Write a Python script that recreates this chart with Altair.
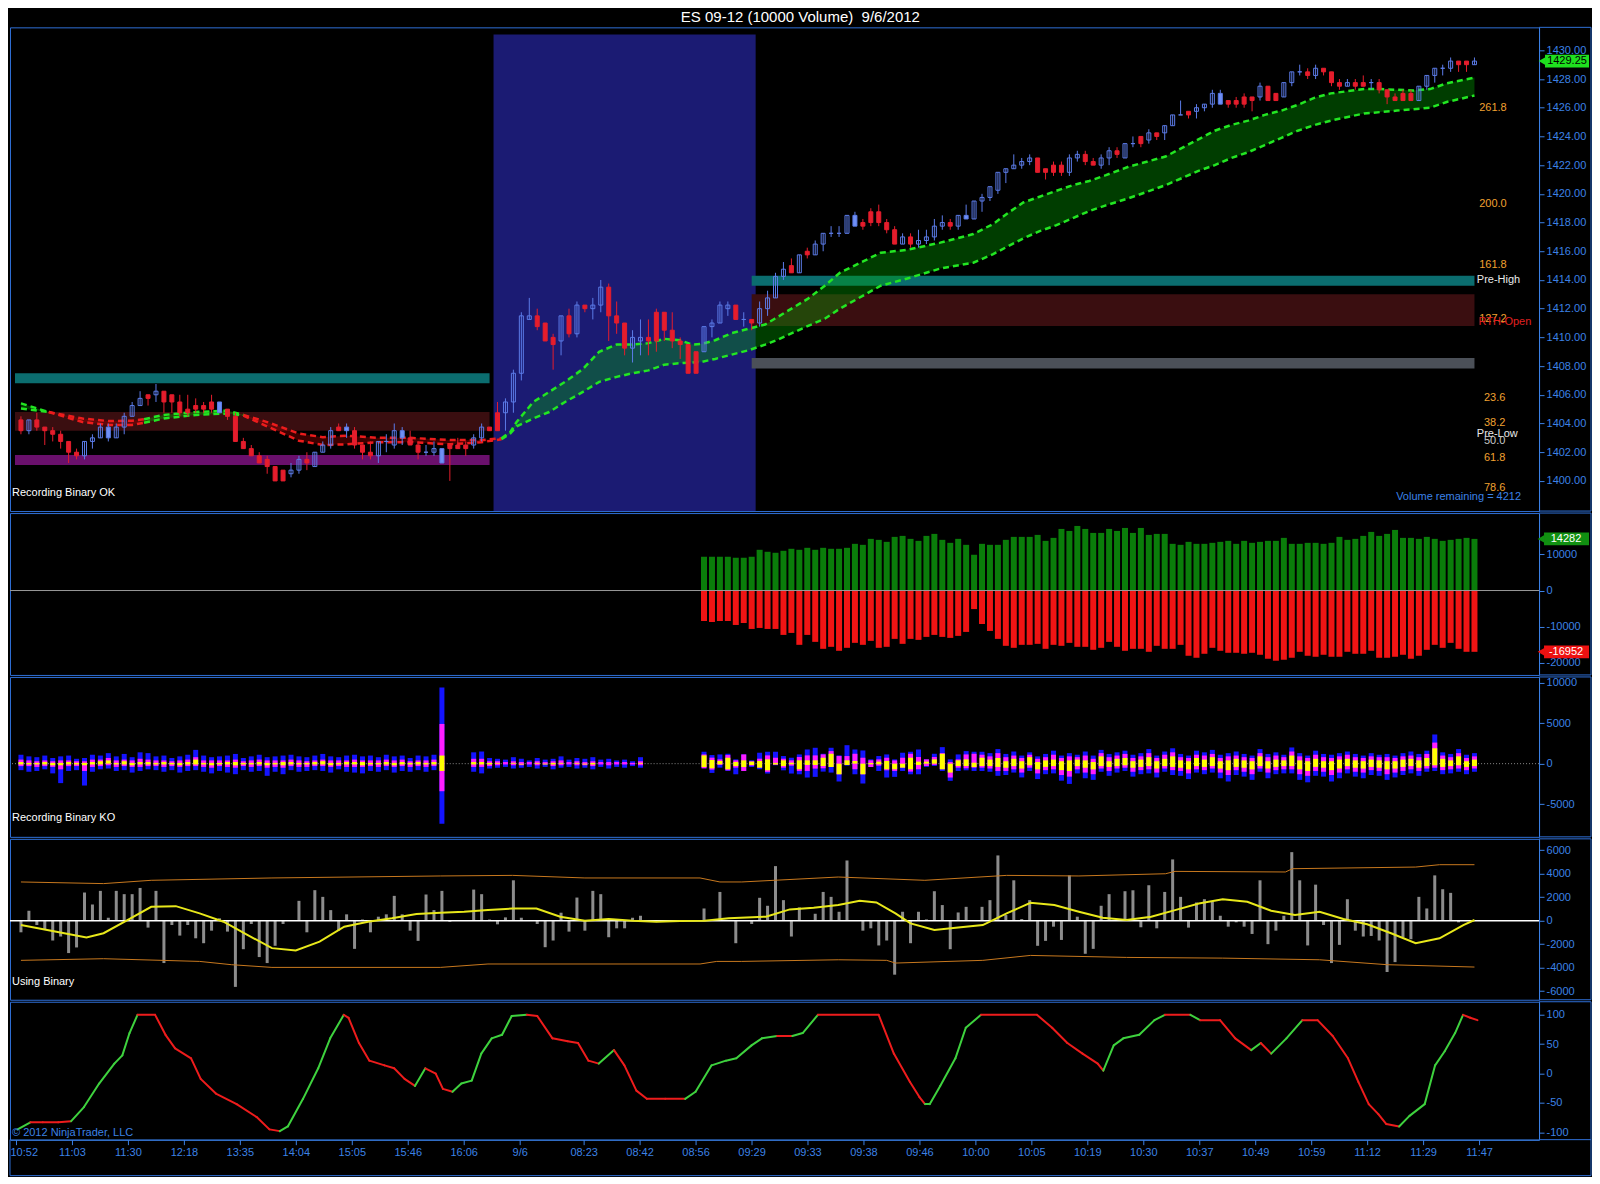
import altair as alt
import pandas as pd

TITLE = "ES 09-12 (10000 Volume)\u00a0 9/6/2012"
FONT = "Liberation Sans"
AX = "#3c82e6"
FRAME = "#2f6fd6"
W = 1530
RIGHT = 1582
H1, H2, H3, H4, H5 = 484, 162, 160, 161, 138
XDOM = [-0.75, 190.5]

# ---------------- bottom axis ----------------
tick_idx = [0, 7, 14, 21, 28, 35, 42, 49, 56, 63, 71, 78, 85, 92, 99, 106, 113, 120,
            127, 134, 141, 148, 155, 162, 169, 176, 183]
tick_lab = ["10:52", "11:03", "11:30", "12:18", "13:35", "14:04", "15:05", "15:46", "16:06",
            "9/6", "08:23", "08:42", "08:56", "09:29", "09:33", "09:38", "09:46", "10:00",
            "10:05", "10:19", "10:30", "10:37", "10:49", "10:59", "11:12", "11:29", "11:47"]

# ---------------- candles ----------------
c_open = [1404.25, 1403.5, 1404.25, 1403.75, 1403.5, 1403.25, 1402.75, 1402.0, 1401.75, 1402.75,
          1403.0, 1403.0, 1403.0, 1403.75, 1404.5, 1405.25, 1406.0, 1406.0, 1406.25, 1406.0,
          1405.5, 1405.0, 1405.25, 1405.25, 1405.5, 1404.75, 1405.0, 1404.5, 1402.75, 1402.25,
          1401.75, 1401.5, 1401.0, 1400.75, 1400.5, 1400.75, 1401.5, 1401.0, 1402.0, 1402.5,
          1403.75, 1403.5, 1403.5, 1402.5, 1402.0, 1401.75, 1402.75, 1402.5, 1403.0, 1403.0,
          1402.5, 1402.0, 1402.0, 1401.25, 1402.5, 1402.5, 1402.5, 1402.5, 1403.0, 1403.75,
          1404.75, 1404.75, 1405.5, 1407.5, 1411.25, 1411.5, 1411.0, 1410.0, 1409.75, 1411.5,
          1410.25, 1412.25, 1412.0, 1412.25, 1413.5, 1411.5, 1411.0, 1409.25, 1409.75, 1410.0,
          1411.75, 1411.75, 1410.5, 1409.75, 1409.5, 1409.0, 1409.0, 1410.75, 1411.0, 1412.0,
          1412.25, 1411.25, 1411.25, 1411.0, 1412.0, 1412.75, 1414.25, 1415.0, 1414.5, 1416.0,
          1415.75, 1416.5, 1417.25, 1417.25, 1417.25, 1417.75, 1418.0, 1418.75, 1418.75, 1418.0,
          1417.5, 1416.5, 1417.0, 1416.5, 1416.75, 1417.0, 1417.75, 1418.0, 1417.75, 1418.25,
          1418.25, 1419.5, 1419.75, 1420.25, 1421.5, 1421.75, 1422.0, 1422.25, 1422.5, 1421.75,
          1422.0, 1422.0, 1421.5, 1422.5, 1422.75, 1422.25, 1422.0, 1422.5, 1423.0, 1422.5,
          1423.5, 1424.0, 1423.75, 1424.25, 1424.25, 1424.75, 1425.5, 1425.75, 1425.75, 1426.0,
          1426.25, 1426.25, 1426.5, 1426.5, 1426.75, 1426.75, 1426.75, 1427.5, 1427.0, 1426.75,
          1427.75, 1428.5, 1428.5, 1428.25, 1428.75, 1428.5, 1427.75, 1427.5, 1427.75, 1427.75,
          1427.75, 1427.75, 1427.25, 1426.75, 1427.0, 1427.0, 1426.5, 1427.5, 1428.25, 1428.75,
          1428.75, 1429.25, 1429.25, 1429.0]
c_high = [1404.5, 1404.25, 1404.75, 1403.75, 1403.75, 1403.5, 1402.75, 1402.25, 1402.75, 1403.25,
          1404.0, 1404.0, 1404.0, 1404.75, 1405.5, 1406.25, 1406.0, 1406.75, 1406.25, 1406.0,
          1406.0, 1406.0, 1405.75, 1405.5, 1406.0, 1405.5, 1405.0, 1404.75, 1403.0, 1402.5,
          1402.0, 1401.75, 1401.0, 1400.75, 1401.25, 1401.75, 1402.0, 1402.0, 1402.75, 1403.75,
          1404.0, 1404.0, 1403.75, 1402.5, 1402.75, 1402.75, 1403.25, 1404.0, 1403.75, 1403.5,
          1402.75, 1402.5, 1402.75, 1402.25, 1402.5, 1403.0, 1402.75, 1403.25, 1404.0, 1403.75,
          1405.5, 1405.75, 1407.75, 1411.75, 1412.75, 1412.0, 1411.0, 1410.25, 1411.5, 1412.0,
          1412.5, 1412.25, 1412.75, 1414.0, 1413.75, 1412.5, 1411.0, 1410.5, 1411.25, 1411.25,
          1412.0, 1411.75, 1411.75, 1410.0, 1409.5, 1409.0, 1410.75, 1411.25, 1412.5, 1412.5,
          1412.25, 1411.75, 1411.25, 1412.5, 1413.25, 1414.5, 1415.25, 1415.5, 1415.75, 1416.25,
          1416.75, 1417.25, 1417.75, 1417.75, 1418.5, 1418.75, 1418.25, 1419.0, 1419.25, 1418.25,
          1417.75, 1417.25, 1417.25, 1417.5, 1417.5, 1418.25, 1418.5, 1418.25, 1418.5, 1419.25,
          1419.5, 1420.0, 1420.5, 1421.5, 1421.75, 1422.75, 1422.5, 1422.75, 1422.5, 1421.75,
          1422.25, 1422.25, 1422.75, 1423.0, 1423.0, 1422.5, 1422.75, 1423.25, 1423.25, 1423.5,
          1424.0, 1424.0, 1424.5, 1424.25, 1424.75, 1425.5, 1426.5, 1425.75, 1426.25, 1426.25,
          1427.25, 1427.25, 1426.5, 1426.75, 1427.0, 1426.75, 1427.75, 1427.5, 1427.0, 1427.75,
          1428.5, 1429.0, 1428.75, 1429.0, 1428.75, 1428.5, 1428.0, 1428.0, 1428.0, 1428.25,
          1428.0, 1428.0, 1427.25, 1427.0, 1427.25, 1427.25, 1427.5, 1428.25, 1428.75, 1429.0,
          1429.5, 1429.25, 1429.25, 1429.5]
c_low = [1403.25, 1403.25, 1403.5, 1402.5, 1402.75, 1402.25, 1401.25, 1401.5, 1401.5, 1402.25,
         1403.0, 1402.75, 1403.0, 1403.25, 1404.5, 1405.25, 1405.25, 1405.5, 1404.75, 1404.75,
         1404.5, 1404.5, 1404.75, 1404.75, 1404.75, 1404.75, 1404.25, 1402.75, 1402.25, 1401.75,
         1401.25, 1400.5, 1400.0, 1400.0, 1400.25, 1400.5, 1400.75, 1401.0, 1402.0, 1402.25,
         1403.5, 1403.0, 1402.25, 1401.5, 1401.5, 1401.25, 1402.0, 1402.25, 1402.5, 1402.5,
         1401.5, 1401.75, 1401.75, 1401.25, 1400.0, 1402.25, 1401.75, 1402.25, 1402.75, 1403.5,
         1403.5, 1403.5, 1404.75, 1407.0, 1411.25, 1410.5, 1409.75, 1407.75, 1408.75, 1410.0,
         1410.0, 1411.75, 1411.25, 1411.75, 1409.75, 1410.25, 1408.75, 1408.25, 1408.75, 1408.75,
         1409.0, 1409.75, 1409.25, 1408.5, 1407.5, 1407.5, 1409.0, 1410.0, 1411.0, 1411.5,
         1411.25, 1410.75, 1410.5, 1410.75, 1411.5, 1412.75, 1414.0, 1414.5, 1414.5, 1415.5,
         1415.75, 1416.0, 1417.0, 1417.0, 1417.25, 1417.75, 1417.5, 1417.75, 1417.75, 1417.25,
         1416.5, 1416.5, 1416.25, 1416.25, 1416.5, 1416.75, 1417.5, 1417.5, 1417.5, 1418.25,
         1418.25, 1418.75, 1419.5, 1420.0, 1420.75, 1421.75, 1421.75, 1422.0, 1421.5, 1421.0,
         1421.25, 1421.25, 1421.25, 1422.25, 1422.0, 1422.0, 1421.75, 1422.0, 1422.5, 1422.5,
         1423.25, 1423.25, 1423.5, 1423.75, 1423.75, 1424.75, 1425.5, 1425.25, 1425.25, 1425.75,
         1426.0, 1426.25, 1426.0, 1426.0, 1426.0, 1425.75, 1426.5, 1426.5, 1426.5, 1426.75,
         1427.5, 1428.25, 1428.0, 1428.0, 1428.25, 1427.5, 1427.25, 1427.5, 1427.25, 1427.5,
         1427.25, 1427.0, 1426.25, 1426.5, 1426.5, 1426.5, 1426.5, 1427.25, 1427.75, 1428.25,
         1428.5, 1428.5, 1428.5, 1429.0]
c_close = [1403.5, 1404.25, 1403.75, 1403.5, 1403.25, 1402.75, 1402.0, 1401.75, 1402.75, 1403.0,
           1403.75, 1403.75, 1403.75, 1404.5, 1405.25, 1405.75, 1405.75, 1406.25, 1405.5, 1405.5,
           1404.75, 1404.75, 1405.0, 1405.0, 1405.0, 1405.5, 1404.5, 1402.75, 1402.25, 1401.75,
           1401.25, 1401.0, 1400.0, 1400.0, 1400.75, 1401.5, 1401.25, 1402.0, 1402.5, 1403.5,
           1403.5, 1403.75, 1402.5, 1402.0, 1401.75, 1402.75, 1402.75, 1403.5, 1403.5, 1402.5,
           1402.0, 1402.0, 1402.25, 1402.25, 1402.25, 1402.25, 1402.25, 1403.0, 1403.75, 1403.5,
           1403.5, 1405.5, 1407.5, 1411.5, 1411.5, 1410.75, 1409.75, 1409.5, 1411.5, 1410.25,
           1412.25, 1412.0, 1412.25, 1413.5, 1411.5, 1411.0, 1409.25, 1410.0, 1410.0, 1409.75,
           1409.75, 1410.5, 1409.75, 1409.5, 1407.5, 1407.5, 1410.75, 1411.0, 1412.25, 1412.25,
           1411.25, 1411.25, 1411.0, 1412.0, 1412.75, 1414.25, 1414.75, 1414.5, 1415.75, 1415.75,
           1416.5, 1417.25, 1417.25, 1417.25, 1418.5, 1418.5, 1417.75, 1418.0, 1418.0, 1417.5,
           1416.5, 1417.0, 1416.5, 1416.75, 1417.0, 1417.75, 1418.0, 1417.75, 1418.5, 1418.5,
           1419.5, 1419.75, 1420.5, 1421.5, 1421.75, 1422.0, 1422.25, 1422.5, 1421.5, 1421.5,
           1421.5, 1421.5, 1422.5, 1422.75, 1422.25, 1422.0, 1422.5, 1423.0, 1422.75, 1423.5,
           1423.5, 1423.5, 1424.25, 1424.0, 1424.75, 1425.5, 1425.5, 1425.5, 1426.0, 1426.25,
           1427.0, 1427.0, 1426.25, 1426.25, 1426.25, 1426.5, 1427.5, 1426.5, 1426.5, 1427.75,
           1428.5, 1428.5, 1428.25, 1428.75, 1428.5, 1427.75, 1427.5, 1427.75, 1427.5, 1427.5,
           1427.75, 1427.25, 1426.75, 1426.5, 1426.5, 1426.5, 1427.5, 1428.25, 1428.75, 1428.75,
           1429.25, 1429.0, 1429.0, 1429.25]
filled_up = [11, 25, 41, 48, 53, 105, 119, 151]

# moving-average ribbon
ma_i = [0, 3.5, 7.75, 11, 14, 15.5, 18, 22, 26, 28, 31, 35, 38, 41, 45, 49, 54, 58, 60.5, 61.6,
        62.4, 64.5, 66.5, 68.5, 70.75, 72.8, 75, 77, 79, 81, 83, 84.5, 85.75, 87.4, 89.5, 91.6,
        93.7, 94.9, 99.1, 101.2, 103.1, 108.25, 111.6, 115.75, 119.9, 122.4, 124.1, 126.2,
        128.25, 130.3, 132.4, 134.5, 136.6, 139.5, 144.1, 148.25, 150.3, 152.4, 154.5, 156.6,
        158.7, 160.75, 162.9, 164.9, 169.1, 171.2, 173.25, 175.3, 177.4, 179.5, 183]
ma_up = [1405.4, 1404.8, 1404.35, 1404.17, 1404.2, 1404.3, 1404.6, 1404.8, 1404.9, 1404.6,
         1404.1, 1403.3, 1403.05, 1403.15, 1403.0, 1403.0, 1402.85, 1402.85, 1402.97, 1403.4,
         1404.1, 1405.5, 1406.2, 1406.9, 1407.8, 1409.0, 1409.5, 1409.5, 1409.6, 1409.9,
         1409.8, 1409.5, 1409.55, 1409.8, 1410.3, 1410.6, 1410.9, 1411.3, 1412.7, 1413.6,
         1414.5, 1415.9, 1416.1, 1416.6, 1417.2, 1417.9, 1418.6, 1419.4, 1419.8, 1420.2,
         1420.6, 1420.9, 1421.3, 1421.9, 1422.6, 1423.8, 1424.4, 1424.8, 1425.1, 1425.5,
         1425.8, 1426.2, 1426.7, 1427.0, 1427.3, 1427.3, 1427.25, 1427.2, 1427.3, 1427.7, 1428.1]
ma_lo = [1405.05, 1404.8, 1404.1, 1403.9, 1403.9, 1404.05, 1404.35, 1404.6, 1404.7, 1404.55,
         1403.8, 1402.8, 1402.5, 1402.55, 1402.7, 1402.7, 1402.55, 1402.7, 1402.9, 1403.3,
         1403.8, 1404.35, 1404.8, 1405.5, 1406.2, 1406.9, 1407.25, 1407.5, 1407.7, 1408.1,
         1408.2, 1408.25, 1408.3, 1408.5, 1408.8, 1409.1, 1409.5, 1409.75, 1410.8, 1411.3,
         1412.0, 1413.6, 1414.1, 1414.8, 1415.2, 1415.8, 1416.3, 1416.9, 1417.4, 1417.8,
         1418.3, 1418.8, 1419.2, 1419.7, 1420.6, 1421.6, 1422.0, 1422.5, 1422.9, 1423.4,
         1423.9, 1424.4, 1424.8, 1425.1, 1425.6, 1425.7, 1425.8, 1425.9, 1426.0, 1426.4, 1426.85]
ma_breaks = [3.5, 15.5, 28, 60.5]
ma_trend = ["g", "r", "g", "r", "g"]

# price zones
zone_x1 = [-0.75, -0.75, -0.75, 92, 92, 92]
zone_x2 = [59, 59, 59, 183, 183, 183]
zone_lo = [1406.8, 1403.5, 1401.1, 1413.6, 1410.8, 1407.83]
zone_hi = [1407.5, 1404.8, 1401.8, 1414.3, 1413.0, 1408.57]
zone_col = ["#0b6d6f", "#3a0e10", "#6a106c", "#0b6d6f", "#3a0e10", "#4b5058"]

# level labels at right
lvl_text = ["261.8", "200.0", "161.8", "Pre-High", "127.2", "RTH-Open", "23.6", "38.2",
            "Pre-Low", "50.0", "61.8", "78.6"]
lvl_price = [1426.0, 1419.3, 1415.05, 1414.0, 1411.3, 1411.1, 1405.8, 1404.05, 1403.3,
             1402.75, 1401.6, 1399.5]
lvl_x = [183.6, 183.6, 183.6, 183.3, 183.6, 183.5, 184.2, 184.2, 183.3, 184.2, 184.2, 184.2]
lvl_col = ["#f0a030", "#f0a030", "#f0a030", "#e8e8e8", "#f0a030", "#e02020", "#f0a030",
           "#f0a030", "#e8e8e8", "#c8c8c8", "#f0a030", "#f0a030"]

# ---------------- panel 2: volume split ----------------
vol_pos = [9343, 9343, 9343, 9343, 9068, 9068, 9343, 11267, 10717, 10442, 10992, 11542, 11267,
           11816, 11267, 11816, 11542, 11542, 11816, 12916, 12641, 14290, 14015, 13465, 14839,
           15114, 14290, 13740, 15114, 15664, 14015, 13190, 14290, 12641, 9893, 12916, 12641,
           12641, 14015, 14839, 14839, 14839, 15389, 13740, 14565, 17038, 16488, 17862, 17038,
           15938, 15938, 17038, 16488, 17312, 15938, 17312, 15389, 15664, 15664, 12916, 12641,
           13465, 12916, 12916, 13190, 13465, 13740, 12916, 13740, 13190, 13465, 13740, 13740,
           14565, 12916, 12916, 13190, 13190, 12916, 13190, 14839, 14015, 14290, 15114, 16213,
           15114, 15664, 16763, 14565, 14565, 14290, 14839, 14290, 13740, 14015, 14290, 14565, 14282]
vol_neg = [-8427, -8702, -8427, -8427, -9526, -8977, -10626, -10351, -10626, -10626, -12274,
           -11725, -15022, -12274, -14198, -16122, -15572, -16671, -15847, -14473, -15022,
           -13923, -15847, -15572, -13374, -14748, -13374, -13648, -12824, -12274, -12824,
           -13099, -12549, -11450, -5130, -9252, -11175, -13374, -15297, -15847, -15022, -15022,
           -14748, -16122, -15022, -15297, -14473, -15572, -15572, -16396, -15847, -14198,
           -15572, -16671, -16122, -16122, -16946, -15297, -16122, -16122, -15022, -18045,
           -18595, -17496, -15847, -16671, -17221, -17221, -17496, -17221, -17770, -18870,
           -19419, -19144, -18595, -16946, -18045, -18320, -17770, -18320, -18320, -16946,
           -17496, -17496, -16671, -18595, -18595, -18320, -17770, -18870, -18045, -16396,
           -15022, -15847, -14473, -16122, -16946, -16952]
vol_first_bar = 86

# ---------------- panel 3: recording binary KO ----------------
N_ = None
k_bh = [1100, 900, 800, 1000, 700, 900, 1000, 600, 700, 1100, 1000, 1300, 900, 1200, 800, 1400, 1300, 900, 1000, 700,
        900, 1100, 1700, 1000, 800, 900, 1000, 1200, 700, 900, 1100, 800, 900, 1000, 1100, 900, 800, 1000, 1200, 900,
        800, 1000, 1100, 900, 1000, 800, 1100, 900, 1000, 700, 1000, 900, 1100, 9400, N_, N_, N_, 1400, 1500, 700,
        600, 500, 800, 600, 400, 700, 500, 600, 900, 500, 700, 600, 800, 500, 600, 400, 500, 300, 800, N_,
        N_, N_, N_, N_, N_, N_, 1470, 1060, 1140, 1220, 530, 1140, 410, 1350, 1470, 1470, 940, 730, 1140, 1750,
        1960, 1220, 1960, 1020, 2280, 1750, 1630, 530, 940, 1140, 530, 1350, 1470, 1750, 530, 1220, 2040, 530, 1140, 1550,
        1470, 1470, 1300, 1800, 1200, 1500, 1000, 1400, 900, 1200, 1600, 1000, 1300, 1100, 1500, 1000, 1700, 1200, 1400, 1600,
        1100, 1300, 1800, 1000, 1500, 1900, 1200, 1000, 1600, 1400, 1700, 1100, 1300, 1500, 1200, 1000, 1800, 1200, 1400, 1100,
        2000, 1300, 1000, 1600, 1200, 1100, 1300, 1500, 1200, 1000, 1300, 1100, 1200, 1000, 1300, 1500, 1200, 1600, 3600, 1400,
        1200, 1800, 1100, 1300]
k_mh = [500, 400, 300, 400, 300, 400, 400, 300, 300, 500, 500, 700, 400, 500, 400, 600, 500, 400, 400, 300,
        400, 500, 800, 400, 400, 400, 400, 500, 300, 400, 500, 400, 400, 400, 500, 400, 300, 400, 500, 400,
        400, 400, 500, 400, 400, 400, 500, 400, 500, 300, 400, 400, 500, 4900, N_, N_, N_, 600, 600, 300,
        300, 200, 300, 200, 200, 300, 200, 300, 400, 200, 300, 200, 300, 200, 200, 200, 200, 100, 300, N_,
        N_, N_, N_, N_, N_, N_, 1140, 740, 530, 1060, 410, 1140, 300, 610, 1020, 730, 610, 410, 820, 1020,
        1020, 1140, 1550, 940, 940, 1220, 730, 410, 530, 730, 400, 730, 1220, 820, 530, 820, 1300, 200, 530, 1140,
        1220, 1100, 900, 1300, 800, 1000, 700, 1100, 600, 800, 1100, 700, 900, 800, 1000, 600, 1300, 800, 1000, 1200,
        700, 900, 1300, 700, 1100, 1400, 800, 700, 1100, 1000, 1200, 700, 900, 1000, 800, 700, 1300, 800, 1000, 800,
        1500, 900, 700, 1100, 800, 700, 900, 1100, 800, 700, 900, 800, 800, 700, 900, 1000, 800, 1200, 2600, 1000,
        800, 1300, 700, 900]
k_yh = [200, 100, 100, 200, 100, 100, 200, 100, 100, 200, 300, 400, 100, 300, 100, 200, 200, 100, 200, 100,
        100, 200, 500, 100, 100, 100, 200, 200, 100, 100, 200, 100, 100, 200, 200, 100, 100, 200, 300, 100,
        100, 200, 200, 200, 100, 100, 200, 100, 200, 100, 200, 100, 200, 1000, N_, N_, N_, 200, 200, 100,
        100, 0, 100, 0, 0, 100, 0, 100, 100, 0, 100, 0, 100, 0, 0, 0, 0, 0, 100, N_,
        N_, N_, N_, N_, N_, N_, 1020, 450, 330, 730, 200, 410, 250, 330, 530, 100, 410, 120, 410, 410,
        410, 730, 1220, 0, 410, 330, 0, 80, 250, 330, 0, 0, 730, 250, 250, 530, 1220, 0, 410, 530,
        120, 730, 500, 700, 300, 600, 300, 800, 200, 400, 500, 300, 400, 500, 400, 200, 900, 300, 600, 700,
        300, 500, 800, 300, 600, 900, 400, 300, 700, 500, 800, 300, 400, 600, 400, 300, 900, 300, 500, 400,
        1000, 400, 300, 600, 300, 300, 500, 600, 400, 300, 500, 400, 300, 300, 500, 600, 400, 700, 1900, 600,
        400, 900, 300, 500]
k_yl = [-100, -100, -100, -100, -200, -200, -100, -100, -200, -100, -100, 0, -100, -100, -200, -100, -100, -100, -100, -100,
        -200, -100, -100, -100, -200, -100, -100, -200, -100, -100, -100, -200, -100, -200, -100, -100, -100, -100, -100, -200,
        -100, -100, -100, -200, -100, -100, -100, -200, -100, -100, -100, -100, -100, -900, N_, N_, N_, -100, -100, -100,
        0, 0, 0, -100, 0, 0, -100, -100, 0, 0, 0, -100, -100, 0, 0, 0, 0, 0, 0, N_,
        N_, N_, N_, N_, N_, N_, -410, -570, -80, -690, -290, -410, -160, -490, -820, -100, -290, -80, -690, -160,
        -160, -290, -410, -1310, -160, 0, -1310, -80, -80, -690, -690, -490, -690, -160, 0, 0, -690, -1100, -290, -290,
        -410, -290, -300, -400, -500, -300, -600, -200, -700, -400, -300, -800, -900, -300, -500, -700, -300, -400, -300, -200,
        -500, -400, -300, -600, -300, -400, -500, -700, -300, -400, -300, -600, -800, -400, -500, -700, -300, -600, -400, -300,
        -300, -700, -900, -400, -500, -800, -600, -300, -500, -600, -400, -500, -700, -600, -400, -300, -500, -300, -200, -400,
        -300, -200, -400, -300]
k_ml = [-300, -300, -400, -300, -400, -700, -300, -300, -900, -400, -300, -200, -400, -300, -400, -400, -300, -300, -400, -300,
        -400, -300, -300, -400, -500, -300, -400, -500, -300, -400, -300, -500, -400, -500, -300, -400, -400, -300, -300, -400,
        -300, -400, -400, -400, -300, -400, -300, -400, -300, -400, -300, -400, -300, -3400, N_, N_, N_, -400, -400, -300,
        -200, -100, -200, -200, -100, -200, -100, -300, -200, -100, -200, -200, -300, -100, -200, -100, -100, -100, -200, N_,
        N_, N_, N_, N_, N_, N_, -570, -740, -160, -820, -490, -900, -250, -490, -1020, -150, -490, -250, -900, -900,
        -610, -570, -410, -1310, -160, -690, -1310, -410, -250, -820, -900, -490, -980, -690, -290, -160, -690, -1710, -490, -570,
        -490, -490, -600, -900, -900, -700, -1100, -500, -1200, -800, -700, -1400, -1600, -700, -1100, -1300, -600, -900, -600, -500,
        -1000, -800, -700, -1100, -600, -800, -900, -1200, -700, -800, -600, -1100, -1400, -800, -1000, -1300, -600, -1100, -800, -700,
        -700, -1300, -1500, -900, -1000, -1400, -1100, -700, -1000, -1100, -800, -900, -1300, -1100, -900, -700, -900, -600, -500, -800,
        -700, -600, -800, -600]
k_bl = [-800, -1000, -900, -700, -1200, -2400, -900, -800, -2700, -1000, -700, -600, -900, -800, -1100, -900, -700, -800, -1000, -800,
        -1100, -900, -800, -1000, -1200, -900, -1100, -1300, -800, -1000, -900, -1500, -1000, -1300, -800, -1000, -900, -800, -900, -1100,
        -700, -1000, -1100, -1200, -900, -1000, -800, -1100, -900, -1000, -800, -1000, -800, -7400, N_, N_, N_, -1000, -1200, -600,
        -500, -400, -600, -500, -400, -600, -400, -700, -500, -400, -600, -500, -700, -400, -600, -400, -500, -300, -500, N_,
        N_, N_, N_, N_, N_, N_, -570, -1140, -490, -900, -1310, -900, -410, -690, -1220, -200, -820, -1220, -1310, -1710,
        -1630, -980, -1100, -2200, -240, -1310, -2450, -410, -900, -1710, -1630, -900, -1310, -1310, -400, -290, -900, -2120, -900, -820,
        -900, -900, -1000, -1500, -1400, -1100, -1700, -900, -1900, -1300, -1200, -2100, -2500, -1200, -1800, -2000, -1000, -1500, -1100, -900,
        -1600, -1300, -1200, -1700, -1000, -1400, -1500, -1900, -1100, -1300, -1100, -1800, -2200, -1400, -1600, -2000, -1000, -1800, -1300, -1200,
        -1200, -2000, -2300, -1500, -1600, -2200, -1800, -1200, -1600, -1800, -1400, -1500, -2000, -1700, -1400, -1200, -1500, -1000, -900, -1300,
        -1200, -1000, -1300, -1000]

# ---------------- panel 4: using binary ----------------
ub_hist = [-990, 846, -370, -790, -1690, -1350, -2760, -2280, 2400, 1380,
           2540, 250, 2540, 2260, 2260, 2790, -590, 2540, -3610, -370,
           -1270, -370, -1500, -1920, -850, 200, -930, -5640, -2430, -280,
           -3100, -3610, -2140, -280, 0, 1690, -990, 2600, 2030, 900,
           -850, 540, -2400, 100, -990, 340, 540, 2115, 540, -850,
           -1720, 2230, 900, 2540, -100, 0, 0, 2650, 2260, 100,
           -310, 280, 3440, 250, 0, -280, -2260, -1690, 680, -930,
           1970, -850, 2540, 2260, -1410, -650, -650, 250, 420, N_,
           N_, N_, N_, N_, N_, N_, 1040, 0, 2450, 0,
           -1920, 0, -280, 1950, 1270, 4650, 1750, -1350, 1130, 0,
           590, 2450, 2030, 760, 5130, 0, -850, -650, -2110, -1690,
           -4600, 760, -1920, 760, 110, 2510, 1330, -2430, 700, 1180,
           0, 1180, 1750, 5560, 480, 3440, 140, 1750, -2140, -1720,
           -510, -1640, 3860, 340, -2820, -2400, 1270, 2260, 0, 2510,
           2590, -560, 3020, -650, 2450, 5220, 2030, -590, 1550, 1830,
           1610, 420, -510, -140, -510, -1130, 3440, -2000, -850, 420,
           5840, 3440, -2110, 3070, -370, -3610, -2060, 1830, -850, -1350,
           -1300, -1690, -4370, -3530, -1440, -1580, 2030, 1040, 3860, 2680,
           2370, -140, 0, 0]
ub_avg_i = [0, 4.3, 8.25, 10.4, 13.4, 16.4, 19.5, 22.5, 25.5, 28.5, 31.6, 34.6, 37.6, 40.7, 43.7,
            46.7, 49.8, 52.8, 55.8, 58.8, 61.9, 64.9, 67.9, 71, 74, 77, 80, 83, 86.1, 89.1, 93.8,
            96.8, 99.8, 102.9, 105.6, 107.7, 110.1, 112, 115, 118, 121.1, 124.1, 127.1, 130.1,
            133.2, 136.2, 139.2, 142.3, 145.3, 148.3, 151.3, 154.4, 157.4, 160.4, 163.5, 166.5,
            169.5, 172.5, 175.6, 178.6, 181.6, 183]
ub_avg_v = [-370, -930, -1440, -1070, 56, 1180, 1240, 620, -85, -1210, -2340, -2540, -1780, -510,
            -85, 200, 560, 680, 760, 900, 1040, 1040, 340, 0, 140, 0, -85, -30, 0, 200, 340, 960,
            1100, 1330, 1690, 1550, 620, -230, -790, -590, -370, 620, 1520, 1330, 760, 250, 56,
            340, 900, 1470, 1830, 1610, 850, 480, 760, 140, -310, -1070, -1920, -1500, -370, 56]
ub_up_i = [0, 10.4, 16.4, 31.6, 52.8, 61.9, 71, 85.5, 88, 90.75, 102.9, 113.8, 124.1, 133.2,
           144.1, 145.3, 159.2, 160.1, 175.6, 178.6, 183]
ub_up_v = [3300, 3160, 3440, 3640, 3810, 3860, 3640, 3640, 3300, 3300, 3720, 3440, 3860, 3810,
           4000, 4200, 4150, 4430, 4570, 4770, 4770]
ub_dn_i = [0, 10.4, 22.5, 26.5, 31.6, 52.8, 58.8, 85.5, 87.6, 90.75, 102.9, 109, 110.1, 121.1,
           127.1, 139.2, 151.3, 163.5, 172, 183]
ub_dn_v = [-3380, -3240, -3470, -3750, -3980, -3980, -3690, -3690, -3470, -3470, -3330, -3380,
           -3610, -3380, -2960, -3130, -3190, -3330, -3750, -3950]

# ---------------- panel 5: oscillator ----------------
st_i = [0.2, 1.8, 3.35, 5.3, 6.9, 8.5, 10.4, 12.3, 13.3, 14.2, 15.2, 17.4, 18.7, 19.9, 21.9, 23.1,
        25.0, 27.6, 30.1, 31.7, 33.0, 34.0, 35.9, 37.8, 39.3, 41.0, 41.6, 42.9, 44.2, 46.1, 47.3,
        48.6, 49.9, 51.2, 52.5, 53.4, 54.6, 55.7, 57.0, 58.2, 59.5, 60.8, 62.0, 63.9, 65.2, 67.1,
        69.0, 70.3, 71.6, 72.9, 74.8, 76.1, 77.6, 78.9, 81.2, 83.7, 85.0, 87.0, 88.8, 90.1, 92.0,
        93.3, 95.2, 97.1, 98.4, 100.3, 107.9, 109.8, 111.8, 113.0, 113.7, 114.3, 115.6, 117.5,
        118.8, 120.7, 127.7, 129.6, 131.5, 133.4, 135.3, 136.0, 137.3, 138.5, 140.5, 142.4, 143.7,
        146.9, 148.1, 150.6, 152.5, 154.5, 155.7, 157.0, 158.9, 160.9, 162.8, 164.7, 166.6, 167.9,
        169.2, 170.4, 171.4, 173.0, 174.3, 176.2, 177.5, 178.7, 180.0, 181.0, 181.9, 182.8]
st_v = [-95, -83, -83, -83, -81, -57, -17, 17, 31, 69, 100, 100, 66, 43, 26, -9, -34, -52, -74,
        -95, -98, -90, -43, 9, 60, 100, 95, 52, 22, 14, 9, -9, -21, 9, 0, -26, -31, -17, -12, 34,
        60, 66, 98, 100, 98, 60, 55, 52, 22, 17, 40, 14, -29, -43, -43, -43, -31, 14, 22, 26, 48,
        60, 64, 64, 69, 100, 100, 34, -14, -40, -52, -52, -21, 26, 78, 100, 100, 78, 52, 34, 17, 5,
        48, 60, 66, 91, 100, 100, 91, 91, 60, 40, 52, 34, 60, 91, 91, 64, 26, -14, -52, -69, -86,
        -90, -72, -52, 14, 38, 69, 100, 95, 91]
st_c = ("gg" + "rrr" + "gggggg" + "rrrrrrrrrr" + "ggggg" + "rrrrrrr" + "g" + "rrr" + "ggggggg"
        + "rrrrrr" + "g" + "rrrrr" + "ggggggg" + "r" + "gg" + "rrrrr" + "ggggg" + "rrrrrr" + "ggggg"
        + "r" + "g" + "rrr" + "g" + "r" + "gg" + "rrrrrrrr" + "gggggg" + "rr")

NB = 184
for arr in (c_open, c_high, c_low, c_close, k_bh, k_mh, k_yh, k_yl, k_ml, k_bl, ub_hist):
    assert len(arr) == NB, len(arr)
assert len(ma_i) == len(ma_up) == len(ma_lo)
assert len(st_i) == len(st_v) == len(st_c), (len(st_i), len(st_v), len(st_c))
assert len(vol_pos) == len(vol_neg)

# ======================================================================
xsc = alt.Scale(domain=XDOM, nice=False, zero=False)


def X(f):
    return alt.X(f"{f}:Q", scale=xsc, axis=None)


def yaxis(values, fmt=None, expr=None):
    kw = dict(orient="right", values=values, title=None, grid=False, labelColor=AX,
              tickColor=AX, domainColor=AX, tickSize=5, labelFontSize=11, labelFont=FONT,
              labelPadding=2, labelOverlap=False, labelFlush=False)
    if fmt:
        kw["format"] = fmt
    if expr:
        kw["labelExpr"] = expr
    return alt.Axis(**kw)


def make_Y(dom, ax):
    def Y(f):
        return alt.Y(f"{f}:Q", scale=alt.Scale(domain=dom, nice=False, zero=False), axis=ax)
    return Y


def label(text, y, color="white", x=2, align="left"):
    return alt.Chart(pd.DataFrame({"t": [text]})).mark_text(
        align=align, baseline="middle", fontSize=11, font=FONT, color=color
    ).encode(text="t:N", x=alt.value(x), y=alt.value(y))


def hline(y, x1, x2):
    return alt.Chart(pd.DataFrame({"k": [0]})).mark_rule(color=FRAME, strokeWidth=1).encode(
        x=alt.value(x1), x2=alt.value(x2), y=alt.value(y))


def vline(x, y1, y2):
    return alt.Chart(pd.DataFrame({"k": [0]})).mark_rule(color=FRAME, strokeWidth=1).encode(
        x=alt.value(x), y=alt.value(y1), y2=alt.value(y2))


def frame(h):
    return [hline(0, W, RIGHT), hline(h, W, RIGHT), vline(RIGHT, 0, h)]


RAW = dict(scale=None)

# ---------------- panel 1 ----------------
Y1 = make_Y([1397.9, 1431.6], yaxis(list(range(1400, 1431, 2)), fmt=".2f"))

UP_C, UPF_C, DN_C = "#5b7be8", "#6f8ff5", "#e51d2c"
cdf = pd.DataFrame({"i": range(NB), "o": c_open, "h": c_high, "l": c_low, "c": c_close})
cdf["sc"] = [DN_C if c < o else UP_C for o, c in zip(cdf.o, cdf.c)]
cdf["fc"] = [DN_C if c < o else (UPF_C if i in filled_up else "transparent")
             for i, o, c in zip(cdf.i, cdf.o, cdf.c)]

session = pd.DataFrame({"x1": [59.5], "x2": [92.5], "top": [1431.1]})
blue_reg = alt.Chart(session).mark_rect(color="#1b1b73").encode(
    x=X("x1"), x2="x2:Q", y=Y1("top"), y2=alt.value(H1))

zdf = pd.DataFrame({"x1": zone_x1, "x2": zone_x2, "lo": zone_lo, "hi": zone_hi, "col": zone_col})
zones = alt.Chart(zdf).mark_rect().encode(
    x=X("x1"), x2="x2:Q", y=Y1("hi"), y2="lo:Q", fill=alt.Fill("col:N", **RAW))

rows = []
for k, iv in enumerate(ma_i):
    for s in range(5):
        lo_b = -1e9 if s == 0 else ma_breaks[s - 1]
        hi_b = 1e9 if s == 4 else ma_breaks[s]
        if lo_b <= iv <= hi_b:
            rows.append(dict(i=iv, up=ma_up[k], lo=ma_lo[k], seg=s, trend=ma_trend[s]))
band = pd.DataFrame(rows)
band["fc"] = band["trend"].map({"g": "#00a800", "r": "#a80000"})
lines = band.melt(id_vars=["i", "seg", "trend"], value_vars=["up", "lo"],
                  var_name="line", value_name="v")
lines["grp"] = lines["line"] + lines["seg"].astype(str)
lines["lc"] = lines["trend"].map({"g": "#22e622", "r": "#ec1c1c"})

ribbon = alt.Chart(band).mark_area(opacity=0.36).encode(
    x=X("i"), y=Y1("up"), y2="lo:Q", fill=alt.Fill("fc:N", **RAW), detail="seg:N")
ma_lines = alt.Chart(lines).mark_line(strokeDash=[6, 4], strokeWidth=2.5).encode(
    x=X("i"), y=Y1("v"), stroke=alt.Stroke("lc:N", **RAW), detail="grp:N")

wicks = alt.Chart(cdf).mark_rule(strokeWidth=1).encode(
    x=X("i"), y=Y1("l"), y2="h:Q", stroke=alt.Stroke("sc:N", **RAW))
bodies = alt.Chart(cdf).mark_bar(size=4, strokeWidth=1).encode(
    x=X("i"), y=Y1("o"), y2="c:Q",
    fill=alt.Fill("fc:N", **RAW), stroke=alt.Stroke("sc:N", **RAW))

ldf = pd.DataFrame({"i": lvl_x, "p": lvl_price, "t": lvl_text, "col": lvl_col})
lvl = alt.Chart(ldf).mark_text(align="left", baseline="middle", fontSize=11, font=FONT).encode(
    x=X("i"), y=Y1("p"), text="t:N", fill=alt.Fill("col:N", **RAW))

last_px = c_close[-1]
tag1 = pd.DataFrame({"v": [last_px], "lo": [last_px - 0.45], "hi": [last_px + 0.45],
                     "t": [f"{last_px:.2f}"]})
tag1_r = alt.Chart(tag1).mark_rect(color="#1fe01f").encode(
    x=alt.value(1536), x2=alt.value(1580), y=Y1("hi"), y2="lo:Q")
tag1_p = alt.Chart(tag1).mark_point(shape="triangle-left", filled=True, size=60,
                                    color="#1fe01f", opacity=1).encode(
    x=alt.value(1533), y=Y1("v"))
tag1_t = alt.Chart(tag1).mark_text(fontSize=11, font=FONT, color="black").encode(
    x=alt.value(1558), y=Y1("v"), text="t:N")

p1 = alt.layer(blue_reg, zones, ribbon, ma_lines, wicks, bodies, lvl,
               label("Volume remaining = 4212", 470, AX, x=1512, align="right"),
               label("Recording Binary OK", 466),
               *frame(H1), tag1_r, tag1_p, tag1_t).properties(width=W, height=H1)

# ---------------- panel 2 ----------------
Y2 = make_Y([-23350, 21430], yaxis([10000, 0, -10000, -20000], expr="toString(datum.value)"))
vdf = pd.DataFrame({"i": range(vol_first_bar, vol_first_bar + len(vol_pos)),
                    "pos": vol_pos, "neg": vol_neg, "z": 0})
g_bars = alt.Chart(vdf).mark_bar(size=6, color="#0a7d0a").encode(x=X("i"), y=Y2("pos"), y2="z:Q")
r_bars = alt.Chart(vdf).mark_bar(size=6, color="#f01414").encode(x=X("i"), y=Y2("neg"), y2="z:Q")
zero2 = alt.Chart(pd.DataFrame({"z": [0]})).mark_rule(color="#9a9a9a", strokeWidth=1).encode(
    y=Y2("z"))
pad2 = 1750
tags2 = pd.DataFrame({"v": [vol_pos[-1], vol_neg[-1]],
                      "lo": [vol_pos[-1] - pad2, vol_neg[-1] - pad2],
                      "hi": [vol_pos[-1] + pad2, vol_neg[-1] + pad2],
                      "t": [str(vol_pos[-1]), str(vol_neg[-1])],
                      "col": ["#119011", "#ee1111"]})
tag2_r = alt.Chart(tags2).mark_rect().encode(
    x=alt.value(1535), x2=alt.value(1580), y=Y2("hi"), y2="lo:Q", fill=alt.Fill("col:N", **RAW))
tag2_p = alt.Chart(tags2).mark_point(shape="triangle-left", filled=True, size=60, opacity=1).encode(
    x=alt.value(1532), y=Y2("v"), fill=alt.Fill("col:N", **RAW))
tag2_t = alt.Chart(tags2).mark_text(fontSize=11, font=FONT, color="white").encode(
    x=alt.value(1557), y=Y2("v"), text="t:N")
p2 = alt.layer(g_bars, r_bars, zero2, *frame(H2), tag2_r, tag2_p, tag2_t).properties(
    width=W, height=H2)

# ---------------- panel 3 ----------------
Y3 = make_Y([-9030, 10700], yaxis([10000, 5000, 0, -5000], expr="toString(datum.value)"))
kdf = pd.DataFrame({"i": range(NB), "bh": k_bh, "bl": k_bl, "mh": k_mh, "ml": k_ml,
                    "yh": k_yh, "yl": k_yl}).dropna()
zero3 = alt.Chart(pd.DataFrame({"z": [0]})).mark_rule(
    color="#8a8a8a", strokeWidth=1, strokeDash=[1, 2]).encode(y=Y3("z"))
kb = alt.Chart(kdf).mark_bar(size=5, color="#1414ff").encode(x=X("i"), y=Y3("bh"), y2="bl:Q")
km = alt.Chart(kdf).mark_bar(size=5, color="#ff1eff").encode(x=X("i"), y=Y3("mh"), y2="ml:Q")
ky = alt.Chart(kdf).mark_bar(size=5, color="#ffff00").encode(x=X("i"), y=Y3("yh"), y2="yl:Q")
p3 = alt.layer(zero3, kb, km, ky, label("Recording Binary KO", 141), *frame(H3)).properties(
    width=W, height=H3)

# ---------------- panel 4 ----------------
Y4 = make_Y([-6736, 6973], yaxis([6000, 4000, 2000, 0, -2000, -4000, -6000],
                                 expr="toString(datum.value)"))
hdf = pd.DataFrame({"i": range(NB), "v": ub_hist, "z": 0}).dropna()
hist = alt.Chart(hdf).mark_bar(size=3, color="#8c8c8c").encode(x=X("i"), y=Y4("v"), y2="z:Q")
zero4 = alt.Chart(pd.DataFrame({"z": [0]})).mark_rule(color="white", strokeWidth=1.5).encode(
    y=Y4("z"))
avg = alt.Chart(pd.DataFrame({"i": ub_avg_i, "v": ub_avg_v})).mark_line(
    color="#e8e81a", strokeWidth=2).encode(x=X("i"), y=Y4("v"))
upb = alt.Chart(pd.DataFrame({"i": ub_up_i, "v": ub_up_v})).mark_line(
    color="#c8781e", strokeWidth=1).encode(x=X("i"), y=Y4("v"))
dnb = alt.Chart(pd.DataFrame({"i": ub_dn_i, "v": ub_dn_v})).mark_line(
    color="#c8781e", strokeWidth=1).encode(x=X("i"), y=Y4("v"))
p4 = alt.layer(hist, zero4, upb, dnb, avg, label("Using Binary", 143), *frame(H4)).properties(
    width=W, height=H4)

# ---------------- panel 5 ----------------
Y5 = make_Y([-112.5, 122.3], yaxis([100, 50, 0, -50, -100], expr="toString(datum.value)"))
lab_expr = ("[" + ",".join(f"'{t}'" for t in tick_lab) + "][indexof(["
            + ",".join(str(t) for t in tick_idx) + "], datum.value)]")
xaxis = alt.Axis(values=tick_idx, labelExpr=lab_expr, labelColor=AX, tickColor=AX,
                 domainColor=AX, tickSize=5, labelFontSize=11, labelFont=FONT,
                 labelOverlap=False, labelFlush=False, grid=False, title=None, labelPadding=2,
                 labelAlign=alt.condition("datum.value == 0", alt.value("left"), alt.value("center")),
                 labelOffset=alt.condition("datum.value == 0", alt.value(-6), alt.value(0)))
sdf = pd.DataFrame({"x1": st_i[:-1], "x2": st_i[1:], "v1": st_v[:-1], "v2": st_v[1:],
                    "c": list(st_c[1:])})
sdf["col"] = sdf["c"].map({"g": "#3ed23e", "r": "#ee1c1c"})
osc = alt.Chart(sdf).mark_rule(strokeWidth=2, strokeCap="round").encode(
    x=alt.X("x1:Q", scale=xsc, axis=xaxis), x2="x2:Q", y=Y5("v1"), y2="v2:Q",
    stroke=alt.Stroke("col:N", **RAW))
BOT = H5 + 36
p5 = alt.layer(osc, label("© 2012 NinjaTrader, LLC", 131, AX),
               hline(0, W, RIGHT), hline(H5, W, RIGHT), hline(BOT, 0, RIGHT),
               vline(RIGHT, 0, BOT), vline(0, H5, BOT)).properties(width=W, height=H5)

chart = alt.vconcat(p1, p2, p3, p4, p5, spacing=0).resolve_scale(
    x="independent", y="independent"
).properties(
    title=alt.TitleParams(TITLE, color="white", fontSize=15, font=FONT, fontWeight="normal",
                          anchor="middle", offset=1),
    background="black", padding={"top": 2, "left": 0, "right": 0, "bottom": 0}
).configure_view(stroke=FRAME, strokeWidth=1).configure_axis(labelFont=FONT)

chart.save("out.html", embed_options={"renderer": "svg", "actions": False})
